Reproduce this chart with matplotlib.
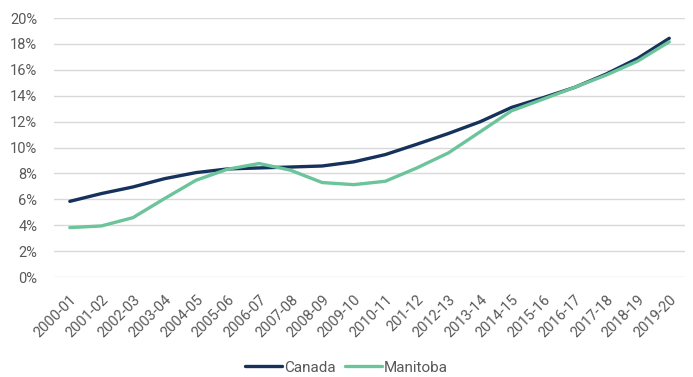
""" Canada vs Manitoba, serie 2000-01 a 2019-20 """

import matplotlib.pyplot as plt
from matplotlib.ticker import PercentFormatter

# etiquetas del eje x (se respeta "201-12" tal cual aparece)
years = ['2000-01', '2001-02', '2002-03', '2003-04', '2004-05', '2005-06',
         '2006-07', '2007-08', '2008-09', '2009-10', '2010-11', '201-12',
         '2012-13', '2013-14', '2014-15', '2015-16', '2016-17', '2017-18',
         '2018-19', '2019-20']

# valores (en %)
canada = [5.85, 6.45, 6.96, 7.6, 8.07, 8.35, 8.43, 8.5, 8.58, 8.9,
          9.46, 10.26, 11.09, 11.99, 13.1, 13.85, 14.65, 15.68, 16.89, 18.44]
manitoba = [3.82, 3.95, 4.59, 6.06, 7.48, 8.33, 8.77, 8.25, 7.3, 7.14,
            7.4, 8.43, 9.59, 11.21, 12.84, 13.74, 14.65, 15.6, 16.68, 18.17]

plt.rcParams['font.family'] = ['Roboto', 'DejaVu Sans']

fig = plt.figure(figsize=(6.93, 3.77), dpi=100)
ax = fig.add_axes([0.078, 0.265, 0.9105, 0.687])

xs = range(len(years))
ax.plot(xs, canada, color='#14325c', lw=2.4, label='Canada', solid_capstyle='round')
ax.plot(xs, manitoba, color='#6cc49a', lw=2.4, label='Manitoba', solid_capstyle='round')

ax.set_xlim(-0.5, len(years) - 0.5)
ax.set_ylim(0, 20)
ax.set_yticks(range(0, 21, 2))
ax.yaxis.set_major_formatter(PercentFormatter(decimals=0))
ax.set_xticks(list(xs))
ax.set_xticklabels(years, rotation=45, ha='right', rotation_mode='anchor')

# rejilla y ejes al estilo Excel
ax.grid(axis='y', color='#d9d9d9', lw=1)
ax.set_axisbelow(True)
for s in ax.spines.values():
    s.set_visible(False)
ax.tick_params(length=0, labelsize=10.5, colors='#595959')
ax.tick_params(axis='y', pad=12)
ax.tick_params(axis='x', pad=11)

fig.legend(*ax.get_legend_handles_labels(), loc='center',
           bbox_to_anchor=(0.5, 0.025), ncol=2, frameon=False,
           fontsize=11, handlelength=2.4, columnspacing=0.6, handletextpad=0.15,
           labelcolor='#595959')

fig.savefig('out.png', dpi=100)
